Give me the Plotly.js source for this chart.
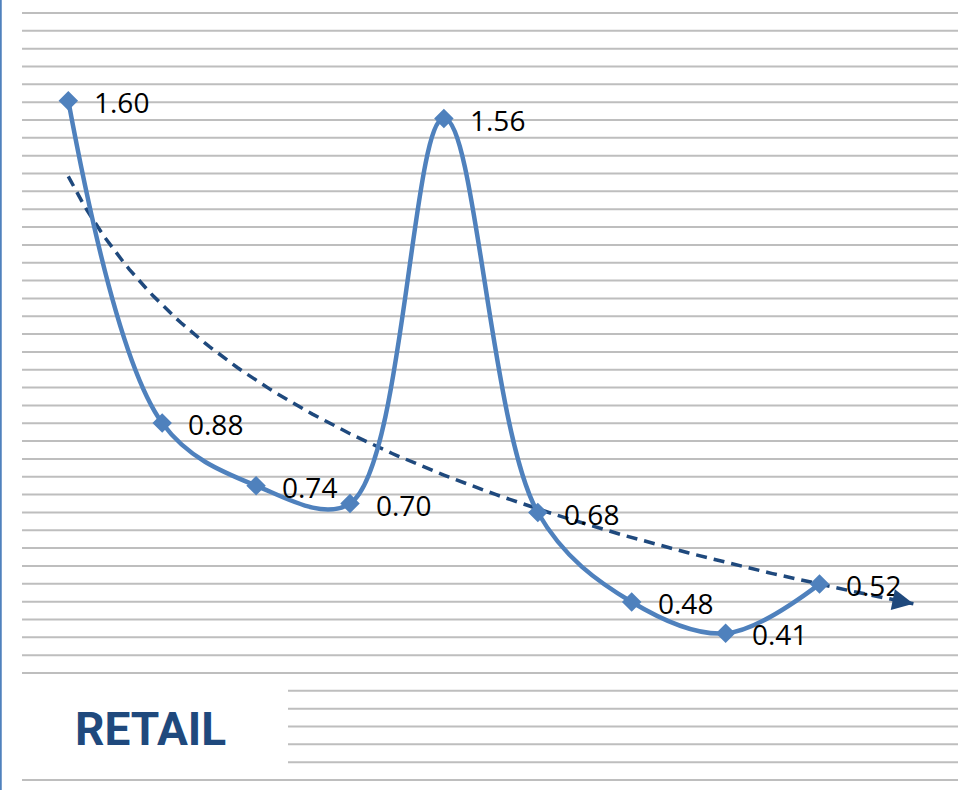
<!DOCTYPE html>
<html>
<head>
<meta charset="utf-8">
<script src="https://cdn.plot.ly/plotly-3.0.1.min.js"></script>
<style>
  html, body { margin: 0; padding: 0; background: #ffffff; }
  #chart { width: 963px; height: 790px; }
</style>
</head>
<body>
<div id="chart"></div>
<script>
// Retail ratio by period
const periods = [1, 2, 3, 4, 5, 6, 7, 8, 9];
const values = [1.60, 0.88, 0.74, 0.70, 1.56, 0.68, 0.48, 0.41, 0.52];
const valueLabels = ['1.60', '0.88', '0.74', '0.70', '1.56', '0.68', '0.48', '0.41', '0.52'];
const chartTitle = 'RETAIL';

// Logarithmic trendline (least squares on ln x), extended one period ahead
function logFit(xs, ys) {
  const lx = xs.map(Math.log);
  const n = xs.length;
  const mx = lx.reduce((a, b) => a + b, 0) / n;
  const my = ys.reduce((a, b) => a + b, 0) / n;
  let sxy = 0, sxx = 0;
  for (let i = 0; i < n; i++) {
    sxy += (lx[i] - mx) * (ys[i] - my);
    sxx += (lx[i] - mx) * (lx[i] - mx);
  }
  const b = sxy / sxx;
  return { a: my - b * mx, b: b };
}
const fit = logFit(periods, values);
const trendEnd = periods[periods.length - 1] + 1;
const trendX = [];
for (let x = periods[0]; x <= trendEnd + 1e-9; x += 0.05) trendX.push(x);
const trendY = trendX.map(x => fit.a + fit.b * Math.log(x));

const blue = '#4f81bd';
const navy = '#1f497d';

// Horizontal rule lines behind the plot
const nRules = 43;
const boxRulesFrom = 38, boxRulesTo = 42; // rows beside the title block
const shapes = [];
for (let k = 0; k <= nRules; k++) {
  const inBox = k >= boxRulesFrom && k <= boxRulesTo;
  shapes.push({
    type: 'line', xref: 'paper', yref: 'paper', layer: 'below',
    x0: inBox ? 0.2842 : 0, x1: 1,
    y0: 1 - k / nRules, y1: 1 - k / nRules,
    line: { color: 'rgb(190,190,190)', width: 2 }
  });
}
// left page edge
shapes.push({
  type: 'line', xref: 'paper', yref: 'paper', layer: 'above',
  x0: -0.0227, x1: -0.0227, y0: -0.02, y1: 1.02,
  line: { color: blue, width: 2 }
});

const annotations = periods.map((p, i) => ({
  x: p, y: values[i], xref: 'x', yref: 'y',
  text: valueLabels[i], showarrow: false,
  xanchor: 'left', yanchor: 'middle', xshift: 24, yshift: -1,
  font: { family: 'Open Sans, sans-serif', size: 28, color: '#000000' }
}));

// arrow head at the end of the trendline
const n = trendX.length;
annotations.push({
  x: trendX[n - 1], y: trendY[n - 1], xref: 'x', yref: 'y',
  ax: trendX[n - 4], ay: trendY[n - 4], axref: 'x', ayref: 'y',
  text: '', showarrow: true, arrowhead: 2, arrowsize: 1.2, arrowwidth: 3.5,
  arrowcolor: navy, standoff: 0, startstandoff: 0
});

annotations.push({
  x: 0.0545, y: 0.066, xref: 'paper', yref: 'paper',
  text: '<b>' + chartTitle + '</b>', showarrow: false,
  xanchor: 'left', yanchor: 'middle',
  font: { family: 'Roboto, sans-serif', size: 46, color: navy }
});

const traces = [
  {
    x: trendX, y: trendY, type: 'scatter', mode: 'lines',
    line: { color: navy, width: 3.5, dash: '11px,7px' },
    hoverinfo: 'skip'
  },
  {
    x: periods, y: values, type: 'scatter', mode: 'lines+markers',
    line: { color: blue, width: 4.5, shape: 'spline', smoothing: 1 },
    marker: { symbol: 'diamond', size: 15, color: blue }
  }
];

const layout = {
  width: 963, height: 790,
  margin: { l: 22, r: 5, t: 13, b: 10 },
  paper_bgcolor: '#ffffff', plot_bgcolor: 'rgba(0,0,0,0)',
  showlegend: false,
  xaxis: {
    range: [0.507, 10.475], showgrid: false, zeroline: false,
    showticklabels: false, ticks: '', showline: false
  },
  yaxis: {
    range: [0.0824, 1.7959], showgrid: false, zeroline: false,
    showticklabels: false, ticks: '', showline: false
  },
  shapes: shapes,
  annotations: annotations
};

Plotly.newPlot('chart', traces, layout, { displayModeBar: false, staticPlot: true });
</script>
</body>
</html>
